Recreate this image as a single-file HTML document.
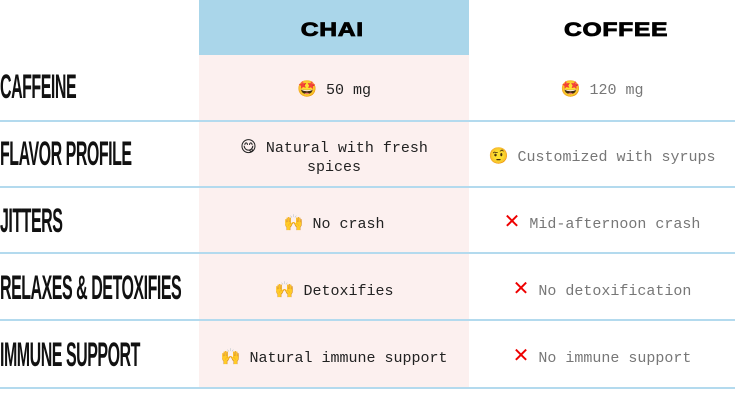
<!DOCTYPE html>
<html><head><style>
body{margin:0;width:735px;height:405px;background:#fff;position:relative;overflow:hidden;font-family:"Liberation Mono",monospace;}
.pink{position:absolute;left:199px;top:55px;width:270px;height:333px;background:#fcf0ef;}
.head{position:absolute;left:199px;top:0;width:270px;height:55px;background:#aad6ea;}
.h{position:absolute;top:20px;font:900 19px "Liberation Sans",sans-serif;transform:scaleX(1.3);letter-spacing:0.5px;-webkit-text-stroke:0.8px #000;}
.line{position:absolute;left:0;width:735px;height:2px;background:#b3daee;}
.lab{position:absolute;left:0;font:bold 34px "Liberation Sans Narrow","Liberation Sans",sans-serif;transform-origin:0 50%;transform:scaleX(0.47);letter-spacing:-1px;color:#111;white-space:nowrap;}
.c{position:absolute;font-size:15px;text-align:center;white-space:nowrap;line-height:19px;}
.chai{left:199px;width:270px;color:#222;}
.cof{left:469px;width:266px;color:#777;}
.x{color:#e00;font-family:"DejaVu Sans",sans-serif;font-weight:bold;font-size:20px;}
.e{font-family:"DejaVu Sans",sans-serif;font-size:16px;}
</style></head><body>
<div class="pink"></div>
<div class="head"></div>
<div class="h" style="left:308px">CHAI</div>
<div class="h" style="left:576px">COFFEE</div>
<div class="line" style="top:120px"></div>
<div class="line" style="top:186px"></div>
<div class="line" style="top:252px"></div>
<div class="line" style="top:319px"></div>
<div class="line" style="top:387px"></div>
<div class="lab" style="top:68px">CAFFEINE</div>
<div class="lab" style="top:135px">FLAVOR PROFILE</div>
<div class="lab" style="top:202px">JITTERS</div>
<div class="lab" style="top:269px">RELAXES &amp; DETOXIFIES</div>
<div class="lab" style="top:336px">IMMUNE SUPPORT</div>
<div class="c chai" style="top:79px"><span class="e">🤩</span>  50 mg</div>
<div class="c cof" style="top:79px"><span class="e">🤩</span> 120 mg</div>
<div class="c chai" style="top:137px"><span class="e">😋</span> Natural with fresh<br>spices</div>
<div class="c cof" style="top:146px"><span class="e">🤨</span> Customized with syrups</div>
<div class="c chai" style="top:213px"><span class="e">🙌</span> No crash</div>
<div class="c cof" style="top:212px"><span class="x">✕</span> Mid-afternoon crash</div>
<div class="c chai" style="top:280px"><span class="e">🙌</span> Detoxifies</div>
<div class="c cof" style="top:279px"><span class="x">✕</span> No detoxification</div>
<div class="c chai" style="top:347px"><span class="e">🙌</span> Natural immune support</div>
<div class="c cof" style="top:346px"><span class="x">✕</span> No immune support</div>
</body></html>
